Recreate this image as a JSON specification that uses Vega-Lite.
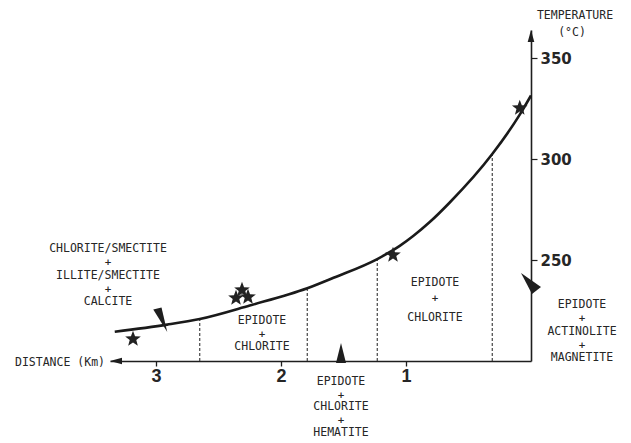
{
  "$schema": "https://vega.github.io/schema/vega-lite/v6.json",
  "autosize": "none",
  "width": 421,
  "height": 331,
  "padding": {"left": 110, "top": 30, "right": 100, "bottom": 82},
  "background": "white",
  "config": {"view": {"stroke": null}},
  "datasets": {
    "profile": [
      {"km": 3.33, "degC": 214.5},
      {"km": 2.91, "degC": 218.0},
      {"km": 2.65, "degC": 220.8},
      {"km": 2.25, "degC": 227.5},
      {"km": 1.79, "degC": 236.0},
      {"km": 1.58, "degC": 241.2},
      {"km": 1.23, "degC": 250.5},
      {"km": 1.05, "degC": 257.0},
      {"km": 0.94, "degC": 262.0},
      {"km": 0.81, "degC": 268.8},
      {"km": 0.65, "degC": 278.5},
      {"km": 0.31, "degC": 302.5},
      {"km": 0.09, "degC": 322.0},
      {"km": 0.0, "degC": 331.5}
    ],
    "zones": [
      {"km": 2.65, "degC": 200, "top": 220.8},
      {"km": 1.79, "degC": 200, "top": 236.0},
      {"km": 1.23, "degC": 200, "top": 250.5},
      {"km": 0.31, "degC": 200, "top": 302.5}
    ],
    "samples": [
      {"km": 3.184, "degC": 210.9},
      {"km": 2.36, "degC": 231.2},
      {"km": 2.312, "degC": 235.2},
      {"km": 2.264, "degC": 231.7},
      {"km": 1.104, "degC": 252.5},
      {"km": 0.09, "degC": 325.3}
    ],
    "flagCurve": [{"km": 2.91, "degC": 214.4}],
    "flagAxis": [{"km": 1.52, "degC": 200}],
    "flagTemp": [{"km": 0.0, "degC": 237.6}],
    "arrowLeft": [{"km": 3.368, "degC": 200}],
    "arrowUp": [{"km": 0.0, "degC": 363.93}],
    "labels": [
      {"km": 3.384, "degC": 255.5, "label": "CHLORITE/SMECTITE"},
      {"km": 3.384, "degC": 242.1, "label": "ILLITE/SMECTITE"},
      {"km": 3.384, "degC": 229.2, "label": "CALCITE"},
      {"km": 2.152, "degC": 219.8, "label": "EPIDOTE"},
      {"km": 2.152, "degC": 206.9, "label": "CHLORITE"},
      {"km": 0.768, "degC": 238.6, "label": "EPIDOTE"},
      {"km": 0.768, "degC": 221.3, "label": "CHLORITE"},
      {"km": 1.52, "degC": 189.6, "label": "EPIDOTE"},
      {"km": 1.52, "degC": 177.2, "label": "CHLORITE"},
      {"km": 1.52, "degC": 164.3, "label": "HEMATITE"},
      {"km": -0.408, "degC": 227.7, "label": "EPIDOTE"},
      {"km": -0.408, "degC": 214.4, "label": "ACTINOLITE"},
      {"km": -0.408, "degC": 201.5, "label": "MAGNETITE"},
      {"km": -0.352, "degC": 370.9, "label": "TEMPERATURE"},
      {"km": -0.328, "degC": 362.5, "label": "(°C)"},
      {"km": 3.768, "degC": 199.0, "label": "DISTANCE  (Km)"}
    ],
    "joins": [
      {"km": 3.384, "degC": 249.0, "label": "+"},
      {"km": 3.384, "degC": 235.7, "label": "+"},
      {"km": 2.152, "degC": 213.4, "label": "+"},
      {"km": 0.768, "degC": 231.2, "label": "+"},
      {"km": 1.52, "degC": 183.2, "label": "+"},
      {"km": 1.52, "degC": 170.8, "label": "+"},
      {"km": -0.408, "degC": 221.3, "label": "+"},
      {"km": -0.408, "degC": 207.9, "label": "+"}
    ]
  },
  "encoding": {
    "x": {
      "field": "km",
      "type": "quantitative",
      "scale": {"domain": [0, 3.368], "reverse": true, "nice": false, "zero": false},
      "axis": {
        "orient": "bottom",
        "values": [1, 2, 3],
        "format": "d",
        "title": null,
        "grid": false,
        "domainColor": "#1e1e1e",
        "domainWidth": 1.6,
        "tickColor": "#1e1e1e",
        "tickWidth": 1.3,
        "tickSize": 5,
        "labelFont": "Liberation Sans",
        "labelFontWeight": "bold",
        "labelFontSize": 18,
        "labelColor": "#262626",
        "labelPadding": 1,
        "labelFlush": false,
        "labelOverlap": false
      }
    },
    "y": {
      "field": "degC",
      "type": "quantitative",
      "scale": {"domain": [200, 363.93], "nice": false, "zero": false},
      "axis": {
        "orient": "right",
        "values": [250, 300, 350],
        "format": "d",
        "title": null,
        "grid": false,
        "domainColor": "#1e1e1e",
        "domainWidth": 1.6,
        "tickColor": "#1e1e1e",
        "tickWidth": 1.2,
        "tickSize": 6,
        "labelFont": "DejaVu Sans",
        "labelFontWeight": "bold",
        "labelFontSize": 15,
        "labelColor": "#262626",
        "labelPadding": 3,
        "labelFlush": false,
        "labelOverlap": false
      }
    }
  },
  "layer": [
    {
      "data": {"name": "zones"},
      "mark": {"type": "rule", "color": "#333", "strokeWidth": 1.1, "strokeDash": [3, 2]},
      "encoding": {"y2": {"field": "top"}}
    },
    {
      "data": {"name": "profile"},
      "mark": {"type": "line", "interpolate": "monotone", "color": "#1a1a1a", "strokeWidth": 2.6}
    },
    {
      "data": {"name": "samples"},
      "mark": {
        "type": "point",
        "filled": true,
        "color": "#222",
        "opacity": 1,
        "size": 270,
        "shape": "M0,-1L0.25,-0.34L0.951,-0.309L0.4,0.13L0.588,0.809L0,0.42L-0.588,0.809L-0.4,0.13L-0.951,-0.309L-0.25,-0.34Z"
      }
    },
    {
      "data": {"name": "flagCurve"},
      "mark": {
        "type": "point", "filled": true, "color": "#1e1e1e", "opacity": 1, "size": 625,
        "shape": "M0,0L-1.12,-1.79L-0.46,-1.95Z"
      }
    },
    {
      "data": {"name": "flagAxis"},
      "mark": {
        "type": "point", "filled": true, "color": "#1e1e1e", "opacity": 1, "size": 400,
        "shape": "M0,-1.8L0.5,0.2L-0.5,0.2Z"
      }
    },
    {
      "data": {"name": "flagTemp"},
      "mark": {
        "type": "point", "filled": true, "color": "#1e1e1e", "opacity": 1, "size": 400,
        "shape": "M-1,-1.2L1,0.2L0.1,0.9Z"
      }
    },
    {
      "data": {"name": "arrowLeft"},
      "mark": {
        "type": "point", "filled": true, "color": "#1e1e1e", "opacity": 1, "size": 144,
        "shape": "M0,0L2,-0.55L2,0.55Z"
      }
    },
    {
      "data": {"name": "arrowUp"},
      "mark": {
        "type": "point", "filled": true, "color": "#1e1e1e", "opacity": 1, "size": 144,
        "shape": "M0,0L-0.55,2L0.55,2Z"
      }
    },
    {
      "data": {"name": "labels"},
      "mark": {
        "type": "text", "font": "DejaVu Sans Mono", "fontSize": 11.5, "color": "#262626",
        "align": "center", "baseline": "middle"
      },
      "encoding": {"text": {"field": "label"}}
    },
    {
      "data": {"name": "joins"},
      "mark": {
        "type": "text", "font": "DejaVu Sans", "fontSize": 9, "fontWeight": "bold", "color": "#262626",
        "align": "center", "baseline": "middle"
      },
      "encoding": {"text": {"field": "label"}}
    }
  ]
}
